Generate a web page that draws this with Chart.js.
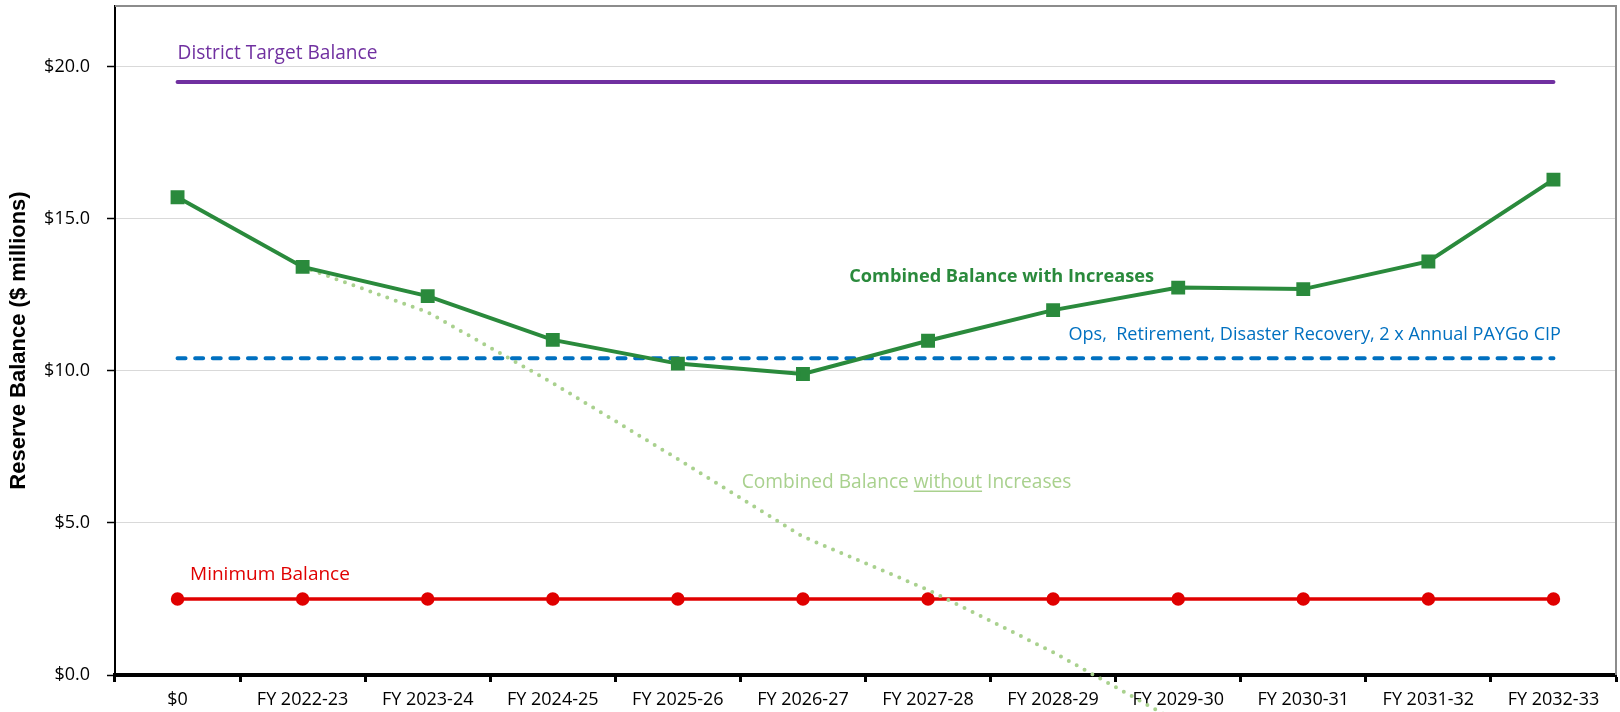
<!DOCTYPE html>
<html>
<head>
<meta charset="utf-8">
<script src="https://cdn.jsdelivr.net/npm/chart.js@4.4.0/dist/chart.umd.min.js"></script>
<style>
html,body{margin:0;padding:0;background:#fff;}
#wrap{width:1620px;height:712px;position:relative;}
canvas{display:block;}
</style>
</head>
<body>
<div id="wrap"><canvas id="c" width="1620" height="712"></canvas></div>
<script>
// ---------- data ----------
const categories = ['$0','FY 2022-23','FY 2023-24','FY 2024-25','FY 2025-26','FY 2026-27',
  'FY 2027-28','FY 2028-29','FY 2029-30','FY 2030-31','FY 2031-32','FY 2032-33'];
const withIncreases    = [15.71, 13.42, 12.46, 11.02, 10.24, 9.90, 10.99, 12.00, 12.74, 12.69, 13.60, 16.29];
const withoutIncreases = [null, 13.42, 11.93, 9.60, 7.10, 4.55, 2.80, 0.75, -1.55, null, null, null];
const targetBalance    = [19.5, 19.5, 19.5, 19.5, 19.5, 19.5, 19.5, 19.5, 19.5, 19.5, 19.5, 19.5];
const opsBalance       = [10.42, 10.42, 10.42, 10.42, 10.42, 10.42, 10.42, 10.42, 10.42, 10.42, 10.42, 10.42];
const minimumBalance   = [2.5, 2.5, 2.5, 2.5, 2.5, 2.5, 2.5, 2.5, 2.5, 2.5, 2.5, 2.5];
const yTickValues = [0, 5, 10, 15, 20];
const yMin = 0, yMax = 22;
const yTitle = 'Reserve Balance ($ millions)';

// series labels drawn in the plot (anchor: category index, value)
const seriesLabels = [
  {parts:[{t:'District Target Balance'}], at:[0, 20.45], align:'left', color:'#7030A0', weight:'normal', width:200},
  {parts:[{t:'Minimum Balance'}], at:[0.1, 3.3], align:'left', color:'#E00000', weight:'normal', width:160},
  {parts:[{t:'Combined Balance with Increases'}], at:[5.37, 13.1], align:'left', color:'#2A8A3C', weight:'bold', width:305},
  {parts:[{t:'Ops,  Retirement, Disaster Recovery, 2 x Annual PAYGo CIP'}], at:[11.06, 11.2], align:'right', color:'#0070C0', weight:'normal', width:493},
  {parts:[{t:'Combined Balance '},{t:'without',u:true},{t:' Increases'}], at:[4.51, 6.33], align:'left', color:'#A9D18E', weight:'normal', width:330}
];

const FONT = '"Open Sans", "Noto Sans", sans-serif';

const labelPlugin = {
  id: 'seriesLabels',
  afterDatasetsDraw(chart) {
    const ctx = chart.ctx, xs = chart.scales.x, ys = chart.scales.y;
    seriesLabels.forEach(l => {
      const full = l.parts.map(p => p.t).join('');
      ctx.save();
      ctx.font = `${l.weight} 20px ${FONT}`;
      const w20 = ctx.measureText(full).width;
      const size = 20 * l.width / w20;
      ctx.font = `${l.weight} ${size}px ${FONT}`;
      ctx.fillStyle = l.color;
      ctx.strokeStyle = l.color;
      ctx.textBaseline = 'middle';
      ctx.textAlign = 'left';
      const px = xs.getPixelForValue(l.at[0]);
      const py = ys.getPixelForValue(l.at[1]);
      const total = ctx.measureText(full).width;
      let x = l.align === 'right' ? px - total : px;
      l.parts.forEach(p => {
        const w = ctx.measureText(p.t).width;
        ctx.fillText(p.t, x, py);
        if (p.u) {
          ctx.lineWidth = 1.5;
          ctx.beginPath();
          ctx.moveTo(x, py + size * 0.45);
          ctx.lineTo(x + w, py + size * 0.45);
          ctx.stroke();
        }
        x += w;
      });
      ctx.restore();
    });
  }
};

const framePlugin = {
  id: 'frame',
  afterDraw(chart) {
    const {ctx, chartArea:a} = chart;
    ctx.save();
    ctx.strokeStyle = '#8C8C8C';
    ctx.lineWidth = 2;
    ctx.beginPath();
    ctx.moveTo(a.left, a.top);
    ctx.lineTo(a.right, a.top);
    ctx.lineTo(a.right, a.bottom);
    ctx.stroke();
    ctx.restore();
  }
};

new Chart(document.getElementById('c'), {
  type: 'line',
  data: {
    labels: categories,
    datasets: [
      {label:'Combined Balance with Increases', data: withIncreases, borderColor:'#2A8A3C', backgroundColor:'#2A8A3C',
       borderWidth:4, pointStyle:'rect', pointRadius:7, pointHoverRadius:7, tension:0},
      {label:'Combined Balance without Increases', data: withoutIncreases, borderColor:'#A9D18E',
       borderWidth:4, borderDash:[0, 9], borderCapStyle:'round', pointRadius:0, clip:false, tension:0},
      {label:'Ops, Retirement, Disaster Recovery, 2 x Annual PAYGo CIP', data: opsBalance, borderColor:'#0070C0',
       borderWidth:4, borderDash:[8, 9.6], borderCapStyle:'round', pointRadius:0},
      {label:'District Target Balance', data: targetBalance, borderColor:'#7030A0',
       borderWidth:4, borderCapStyle:'round', pointRadius:0},
      {label:'Minimum Balance', data: minimumBalance, borderColor:'#E00000', backgroundColor:'#E00000',
       borderWidth:3.5, pointStyle:'circle', pointRadius:5, pointHoverRadius:5}
    ]
  },
  options: {
    responsive: false,
    animation: false,
    devicePixelRatio: 1,
    layout: {autoPadding: false, padding: {top: 6, right: 4, left: 0, bottom: 0}},
    plugins: {legend: {display: false}, tooltip: {enabled: false}},
    scales: {
      x: {
        type: 'category',
        offset: true,
        grid: {offset: true, drawOnChartArea: false, drawTicks: true, tickLength: 7, tickColor: '#000', tickWidth: 3},
        border: {color: '#000', width: 4},
        ticks: {color: '#000', font: {family: FONT, size: 18}, padding: 7, maxRotation: 0, autoSkip: false},
        afterFit(s) { s.height = 37; s.paddingLeft = 0; s.paddingRight = 0; }
      },
      y: {
        min: yMin, max: yMax,
        afterBuildTicks(s) { s.ticks = yTickValues.map(v => ({value: v})); },
        grid: {color: (c) => c.tick && c.tick.value === 0 ? 'rgba(0,0,0,0)' : '#D9D9D9', lineWidth: 1,
               tickColor: '#000', tickLength: 8, tickWidth: 1.5},
        border: {color: '#000', width: 2},
        ticks: {color: '#000', font: {family: FONT, size: 18}, padding: 17,
                callback: (v) => '$' + Number(v).toFixed(1)},
        title: {display: true, text: yTitle, color: '#000',
                font: {family: '"Liberation Sans", Arial, sans-serif', size: 22, weight: 'bold'},
                padding: {top: 6, bottom: 0}},
        afterFit(s) { s.width = 115; s.paddingTop = 0; s.paddingBottom = 0; }
      }
    }
  },
  plugins: [labelPlugin, framePlugin]
});
</script>
</body>
</html>
